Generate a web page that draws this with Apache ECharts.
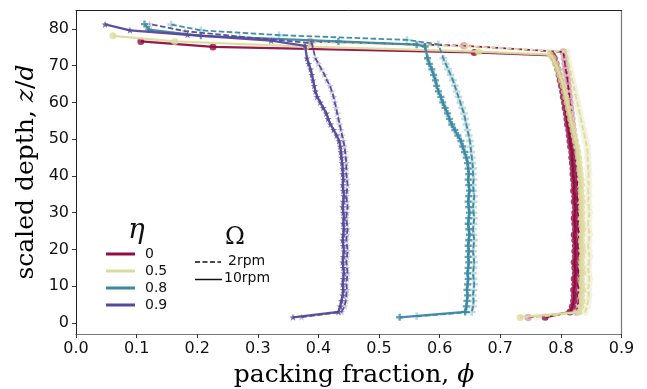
<!DOCTYPE html>
<html>
<head>
<meta charset="utf-8">
<script src="https://cdn.jsdelivr.net/npm/echarts@6/dist/echarts.min.js"></script>
<style>
html,body{margin:0;padding:0;background:#fff;}
#chart{width:647px;height:389px;}
</style>
</head>
<body>
<div id="chart"></div>
<script>
// Depths (z/d) of the bulk profile samples, shared by every run
const zBulk = [3,4.5,6,7.5,9,10.5,12,13.5,15,16.5,18,19.5,21,22.5,24,25.5,27,28.5,30,31.5,33,34.5,36,37.5,39,40.5,42,43.5,45,46.5,48,49.5,51,52.5,54,55.5,57,58.5,60,61.5,63,64.5,66,67.5,69,70.5,72];

// eta = 0
const phiEta0_10 = [0.815,0.819,0.821,0.822,0.821,0.823,0.822,0.824,0.823,0.822,0.824,0.823,0.824,0.823,0.822,0.824,0.823,0.822,0.823,0.824,0.822,0.823,0.821,0.822,0.821,0.820,0.820,0.819,0.818,0.818,0.816,0.815,0.814,0.813,0.811,0.810,0.809,0.807,0.806,0.804,0.803,0.801,0.799,0.797,0.795,0.792,0.789];
const phiEta0_2 = [0.826,0.828,0.829,0.828,0.829,0.828,0.830,0.829,0.828,0.829,0.830,0.829,0.828,0.829,0.830,0.829,0.828,0.829,0.828,0.829,0.828,0.827,0.828,0.827,0.827,0.826,0.826,0.825,0.824,0.824,0.823,0.822,0.821,0.820,0.819,0.818,0.817,0.816,0.815,0.814,0.813,0.812,0.811,0.810,0.808,0.807,0.806];
// eta = 0.5
const phiEta05_10 = [0.830,0.833,0.835,0.834,0.836,0.835,0.834,0.836,0.835,0.834,0.835,0.836,0.835,0.834,0.835,0.836,0.835,0.834,0.835,0.834,0.835,0.834,0.833,0.834,0.833,0.832,0.831,0.830,0.829,0.828,0.826,0.824,0.822,0.820,0.818,0.816,0.814,0.812,0.810,0.808,0.806,0.804,0.801,0.798,0.795,0.791,0.787];
const phiEta05_2 = [0.840,0.843,0.845,0.846,0.845,0.846,0.847,0.846,0.845,0.846,0.847,0.846,0.845,0.846,0.847,0.846,0.845,0.846,0.847,0.846,0.845,0.846,0.845,0.846,0.845,0.846,0.845,0.845,0.844,0.844,0.843,0.841,0.839,0.837,0.835,0.833,0.831,0.829,0.827,0.825,0.823,0.821,0.819,0.817,0.815,0.813,0.811];
// eta = 0.8
const phiEta08_10 = [0.642,0.644,0.645,0.646,0.645,0.646,0.647,0.646,0.647,0.648,0.647,0.648,0.647,0.648,0.649,0.648,0.647,0.648,0.649,0.648,0.647,0.648,0.649,0.648,0.647,0.648,0.647,0.646,0.644,0.641,0.638,0.635,0.630,0.625,0.620,0.616,0.613,0.609,0.605,0.602,0.598,0.595,0.593,0.590,0.587,0.583,0.580];
const phiEta08_2 = [0.653,0.655,0.656,0.655,0.656,0.657,0.656,0.655,0.656,0.657,0.656,0.655,0.656,0.657,0.656,0.655,0.656,0.657,0.656,0.655,0.656,0.657,0.656,0.655,0.656,0.655,0.655,0.654,0.653,0.652,0.651,0.650,0.648,0.646,0.644,0.642,0.640,0.637,0.634,0.631,0.628,0.625,0.622,0.618,0.614,0.610,0.606];
// eta = 0.9
const phiEta09_10 = [0.433,0.436,0.438,0.440,0.441,0.440,0.441,0.442,0.441,0.440,0.441,0.442,0.441,0.440,0.441,0.442,0.441,0.442,0.441,0.440,0.441,0.442,0.441,0.440,0.441,0.440,0.440,0.439,0.438,0.437,0.436,0.434,0.430,0.425,0.420,0.416,0.413,0.408,0.403,0.398,0.395,0.393,0.391,0.389,0.387,0.384,0.381];
const phiEta09_2 = [0.438,0.443,0.445,0.446,0.447,0.446,0.447,0.448,0.447,0.446,0.447,0.448,0.447,0.446,0.447,0.448,0.447,0.446,0.447,0.448,0.447,0.446,0.447,0.448,0.447,0.446,0.446,0.446,0.445,0.444,0.443,0.441,0.439,0.437,0.435,0.433,0.431,0.429,0.427,0.425,0.422,0.419,0.414,0.410,0.405,0.400,0.395];

// Floor point below the bulk and the free-surface points above it
const floorEta0_10 = [0.774, 1.55], floorEta0_2 = [0.746, 1.5];
const floorEta05_10 = [0.733, 1.5], floorEta05_2 = [0.760, 1.6];
const floorEta08_10 = [0.534, 1.55], floorEta08_2 = [0.562, 1.8];
const floorEta09_10 = [0.358, 1.55], floorEta09_2 = [0.372, 1.6];

const surfPhiEta0_10 = [0.786,0.657,0.226,0.107], surfZEta0_10 = [72.8,73.6,75.1,76.6];
const surfPhiEta0_2 = [0.804,0.640,0.386], surfZEta0_2 = [73.7,75.4,76.6];
const surfPhiEta05_10 = [0.782,0.664,0.380,0.163,0.061], surfZEta05_10 = [73.0,73.8,75.2,76.6,78.1];
const surfPhiEta05_2 = [0.810,0.645,0.390], surfZEta05_2 = [73.8,75.3,76.4];
const surfPhiEta08_10 = [0.576,0.562,0.433,0.206,0.120,0.113], surfZEta08_10 = [75.2,75.7,76.6,78.1,79.8,81.3];
const surfPhiEta08_2 = [0.598,0.546,0.335,0.206,0.157], surfZEta08_2 = [75.8,77.0,78.3,79.6,81.2];
const surfPhiEta09_10 = [0.378,0.322,0.184,0.089,0.048], surfZEta09_10 = [75.4,76.8,78.4,79.6,81.2];
const surfPhiEta09_2 = [0.389,0.270,0.180,0.121], surfZEta09_2 = [76.1,77.9,79.4,81.3];

const etaLabels = ['0','0.5','0.8','0.9'];
const omegaLabels = ['2rpm','10rpm'];
const yTicks = [0,10,20,30,40,50,60,70,80];

const colors = ['#900c42','#dcdb9e','#3a89a3','#574898'];

function profile(floor, phi, surfPhi, surfZ) {
  const pts = [floor.slice()];
  phi.forEach((p, i) => pts.push([p, zBulk[i]]));
  surfPhi.forEach((p, i) => pts.push([p, surfZ[i]]));
  return pts;
}

const plusPath = 'path://M-1,-3H1V-1H3V1H1V3H-1V1H-3V-1H-1Z';
const starPath = 'path://M0,-3L0.9,-0.9L3,-0.9L1.3,0.4L1.9,2.6L0,1.2L-1.9,2.6L-1.3,0.4L-3,-0.9L-0.9,-0.9Z';
const symbols = ['circle','circle',plusPath,starPath];

function hexA(hex, a) {
  const r = parseInt(hex.slice(1,3),16), g = parseInt(hex.slice(3,5),16), b = parseInt(hex.slice(5,7),16);
  return 'rgba(' + r + ',' + g + ',' + b + ',' + a + ')';
}

const runs = [
  [0, true,  profile(floorEta0_2,  phiEta0_2,  surfPhiEta0_2,  surfZEta0_2)],
  [0, false, profile(floorEta0_10, phiEta0_10, surfPhiEta0_10, surfZEta0_10)],
  [1, true,  profile(floorEta05_2,  phiEta05_2,  surfPhiEta05_2,  surfZEta05_2)],
  [1, false, profile(floorEta05_10, phiEta05_10, surfPhiEta05_10, surfZEta05_10)],
  [2, true,  profile(floorEta08_2,  phiEta08_2,  surfPhiEta08_2,  surfZEta08_2)],
  [2, false, profile(floorEta08_10, phiEta08_10, surfPhiEta08_10, surfZEta08_10)],
  [3, true,  profile(floorEta09_2,  phiEta09_2,  surfPhiEta09_2,  surfZEta09_2)],
  [3, false, profile(floorEta09_10, phiEta09_10, surfPhiEta09_10, surfZEta09_10)]
];

const series = runs.map(([k, slow, data], idx) => ({
  type: 'line',
  data: data,
  symbol: symbols[k],
  symbolSize: slow ? 7.5 : 7,
  silent: true,
  z: 2 + idx,
  lineStyle: slow
    ? { color: hexA(colors[k], 0.95), width: 1.8, type: [5.5, 2.5] }
    : { color: hexA(colors[k], 0.95), width: 2.3 },
  itemStyle: { color: slow ? hexA(colors[k], 0.32) : hexA(colors[k], 0.8), borderWidth: 0 }
}));

const chart = echarts.init(document.getElementById('chart'), null, { renderer: 'canvas' });

const tickFont = { fontFamily: 'DejaVu Sans', fontSize: 16, color: '#111' };

const graphics = [];
// eta legend
graphics.push({ type: 'text', left: 128, top: 217, style: { text: 'η', font: 'italic 28px "DejaVu Serif"', fill: '#111' } });
etaLabels.forEach((lab, i) => {
  const y = 254 + i * 17;
  graphics.push({ type: 'line', shape: { x1: 106, y1: y, x2: 135, y2: y }, style: { stroke: colors[i], lineWidth: 3 } });
  graphics.push({ type: 'text', x: 145, y: y, style: { text: lab, font: '14px "DejaVu Sans"', fill: '#111', textVerticalAlign: 'middle' } });
});
// Omega legend
graphics.push({ type: 'text', left: 225, top: 226, style: { text: 'Ω', font: '24px "DejaVu Serif"', fill: '#111' } });
graphics.push({ type: 'line', shape: { x1: 195, y1: 262, x2: 221, y2: 262 }, style: { stroke: '#111', lineWidth: 1.5, lineDash: [5, 2.5] } });
graphics.push({ type: 'text', x: 228, y: 261, style: { text: omegaLabels[0], font: '14px "DejaVu Sans"', fill: '#111', textVerticalAlign: 'middle' } });
graphics.push({ type: 'line', shape: { x1: 195, y1: 279.5, x2: 222, y2: 279.5 }, style: { stroke: '#111', lineWidth: 1.5 } });
graphics.push({ type: 'text', x: 224, y: 278.5, style: { text: omegaLabels[1], font: '14px "DejaVu Sans"', fill: '#111', textVerticalAlign: 'middle' } });

// axis titles
const titleRich = {
  n: { fontFamily: 'DejaVu Serif', fontSize: 25, color: '#111' },
  i: { fontFamily: 'DejaVu Serif', fontStyle: 'italic', fontSize: 25, color: '#111' }
};
graphics.push({
  type: 'text', x: 354, y: 375,
  style: { text: '{n|packing fraction, }{i|ϕ}', textAlign: 'center', textVerticalAlign: 'middle', rich: titleRich }
});
graphics.push({
  type: 'text', x: 26, y: 172, rotation: Math.PI / 2,
  style: { text: '{n|scaled depth, }{i|z}{n|/}{i|d}', textAlign: 'center', textVerticalAlign: 'middle', rich: titleRich }
});

chart.setOption({
  animation: false,
  backgroundColor: '#fff',
  grid: { left: 76, right: 25.5, top: 10.5, bottom: 55, containLabel: false },
  xAxis: [{
    type: 'value', min: 0, max: 0.9, interval: 0.1,
    axisLine: { show: true, onZero: false, lineStyle: { color: '#777', width: 1.2 } },
    axisTick: { show: true, inside: false, length: 4, lineStyle: { color: '#333' } },
    axisLabel: Object.assign({ margin: 7, formatter: v => v.toFixed(1) }, tickFont),
    splitLine: { show: false }
  }, {
    type: 'value', min: 0, max: 0.9, position: 'top',
    axisLine: { show: true, onZero: false, lineStyle: { color: '#222', width: 1 } },
    axisTick: { show: false }, axisLabel: { show: false }, splitLine: { show: false }
  }],
  yAxis: [{
    type: 'value', min: -3, max: 85, interval: 10,
    axisLine: { show: true, onZero: false, lineStyle: { color: '#222', width: 1 } },
    axisTick: { show: true, inside: false, length: 4, lineStyle: { color: '#333' }, customValues: yTicks },
    axisLabel: Object.assign({ margin: 7, customValues: yTicks }, tickFont),
    splitLine: { show: false }
  }, {
    type: 'value', min: -3, max: 85, position: 'right',
    axisLine: { show: true, onZero: false, lineStyle: { color: '#777', width: 1.2 } },
    axisTick: { show: false }, axisLabel: { show: false }, splitLine: { show: false }
  }],
  series: series,
  graphic: graphics
});
</script>
</body>
</html>
